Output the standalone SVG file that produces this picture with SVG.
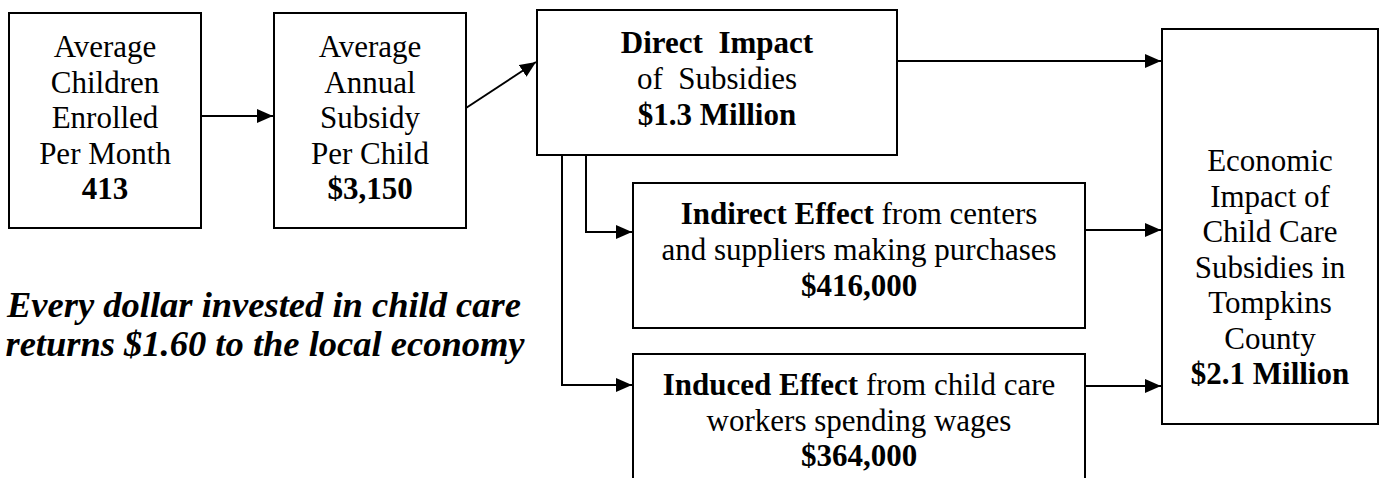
<svg xmlns="http://www.w3.org/2000/svg" width="1384" height="478" viewBox="0 0 1384 478">
<style>
.box{fill:#fff;stroke:#000;stroke-width:2}
.t{font-family:'Liberation Serif','Times New Roman',serif;font-size:31px;fill:#000;text-anchor:middle}
.b{font-weight:bold}
.c{fill:none;stroke:#000;stroke-width:2}
.q{font-family:'Liberation Serif','Times New Roman',serif;font-size:36.5px;font-weight:bold;font-style:italic;fill:#000;text-anchor:middle}
</style>
<defs>
<marker id="ah" markerWidth="16" markerHeight="14" refX="16" refY="7" orient="auto" markerUnits="userSpaceOnUse">
<path d="M0,0 L16,7 L0,14 Z" fill="#000"/>
</marker>
</defs>
<g id="connectors">
<line class="c" x1="201" y1="116" x2="273" y2="116" marker-end="url(#ah)"/>
<line class="c" x1="466" y1="108" x2="536" y2="62" marker-end="url(#ah)"/>
<line class="c" x1="897" y1="61" x2="1161" y2="61" marker-end="url(#ah)"/>
<polyline class="c" points="586,155 586,232 632,232" marker-end="url(#ah)"/>
<polyline class="c" points="562,155 562,385 632,385" marker-end="url(#ah)"/>
<line class="c" x1="1085" y1="230" x2="1161" y2="230" marker-end="url(#ah)"/>
<line class="c" x1="1085" y1="386" x2="1161" y2="386" marker-end="url(#ah)"/>
</g>
<g id="n1">
<rect class="box" x="9" y="13" width="192" height="215"/>
<text class="t" x="105" y="57">Average</text>
<text class="t" x="105" y="92.5">Children</text>
<text class="t" x="105" y="128">Enrolled</text>
<text class="t" x="105" y="163.5">Per Month</text>
<text class="t b" x="105" y="199">413</text>
</g>
<g id="n2">
<rect class="box" x="274" y="13" width="192" height="215"/>
<text class="t" x="370" y="57">Average</text>
<text class="t" x="370" y="92.5">Annual</text>
<text class="t" x="370" y="128">Subsidy</text>
<text class="t" x="370" y="163.5">Per Child</text>
<text class="t b" x="370" y="199">$3,150</text>
</g>
<g id="n3">
<rect class="box" x="537" y="10" width="360" height="145"/>
<text class="t b" x="717" y="53" xml:space="preserve">Direct  Impact</text>
<text class="t" x="717" y="89" xml:space="preserve">of  Subsidies</text>
<text class="t b" x="717" y="125">$1.3 Million</text>
</g>
<g id="n4">
<rect class="box" x="1162" y="29" width="216" height="395"/>
<text class="t" x="1270" y="171">Economic</text>
<text class="t" x="1270" y="206.5">Impact of</text>
<text class="t" x="1270" y="242">Child Care</text>
<text class="t" x="1270" y="277.5">Subsidies in</text>
<text class="t" x="1270" y="313">Tompkins</text>
<text class="t" x="1270" y="348.5">County</text>
<text class="t b" x="1270" y="384">$2.1 Million</text>
</g>
<g id="n5">
<rect class="box" x="633" y="183" width="452" height="145"/>
<text class="t" x="859" y="224"><tspan class="b">Indirect Effect</tspan> from centers</text>
<text class="t" x="859" y="260">and suppliers making purchases</text>
<text class="t b" x="859" y="296">$416,000</text>
</g>
<g id="n6">
<rect class="box" x="633" y="354" width="452" height="140"/>
<text class="t" x="859" y="395"><tspan class="b">Induced Effect</tspan> from child care</text>
<text class="t" x="859" y="431">workers spending wages</text>
<text class="t b" x="859" y="466">$364,000</text>
</g>
<g id="note">
<text class="q" x="264" y="317">Every dollar invested in child care</text>
<text class="q" x="265" y="356">returns $1.60 to the local economy</text>
</g>
</svg>
